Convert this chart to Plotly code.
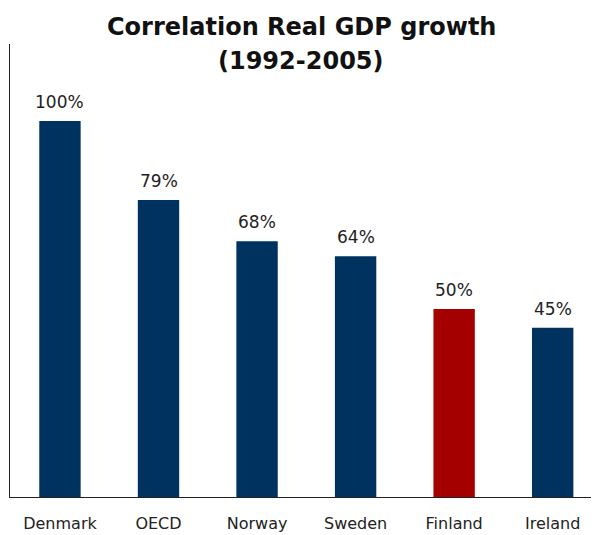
import plotly.graph_objects as go

categories = ["Denmark", "OECD", "Norway", "Sweden", "Finland", "Ireland"]
values = [1.00, 0.79, 0.68, 0.64, 0.50, 0.45]
labels = ["100%", "79%", "68%", "64%", "50%", "45%"]
colors = ["#00325F", "#00325F", "#00325F", "#00325F", "#A50000", "#00325F"]
title_lines = ["Correlation Real GDP growth", "(1992-2005)"]

FONT = "DejaVu Sans, sans-serif"

# The page body has an 8px margin, so the figure is sized/positioned to compensate.
W, H = 591, 527

fig = go.Figure(go.Bar(
    x=categories, y=values, marker=dict(color=colors, line=dict(width=0)),
    width=0.42, hoverinfo="skip",
))

for c, v, t in zip(categories, values, labels):
    fig.add_annotation(x=c, y=v, text=t, showarrow=False, yanchor="bottom",
                       yshift=7, font=dict(family=FONT, size=17, color="#222222"))

for i, (line, ypx) in enumerate(zip(title_lines, [19, 53])):
    fig.add_annotation(xref="paper", yref="paper", x=(293 - 2) / (W - 2),
                       y=1 + (36 - ypx) / (H - 36 - 37.5),
                       text="<b>%s</b>" % line, showarrow=False,
                       xanchor="center", yanchor="middle",
                       font=dict(family=FONT, size=24, color="#111111"))

fig.update_layout(
    width=W, height=H,
    margin=dict(l=2, r=0, t=36, b=37.5, pad=0),
    paper_bgcolor="white", plot_bgcolor="white",
    showlegend=False,
    xaxis=dict(range=[-0.507, 5.47], showgrid=False, zeroline=False,
               showline=True, linecolor="#222222", linewidth=1,
               ticks="", ticklabelstandoff=12, automargin=False,
               tickfont=dict(family=FONT, size=16, color="#222222")),
    yaxis=dict(range=[0, 1.2045], showgrid=False, zeroline=False,
               showline=True, linecolor="#222222", linewidth=1,
               showticklabels=False, ticks="", automargin=False),
)

fig.write_html("out.html")
